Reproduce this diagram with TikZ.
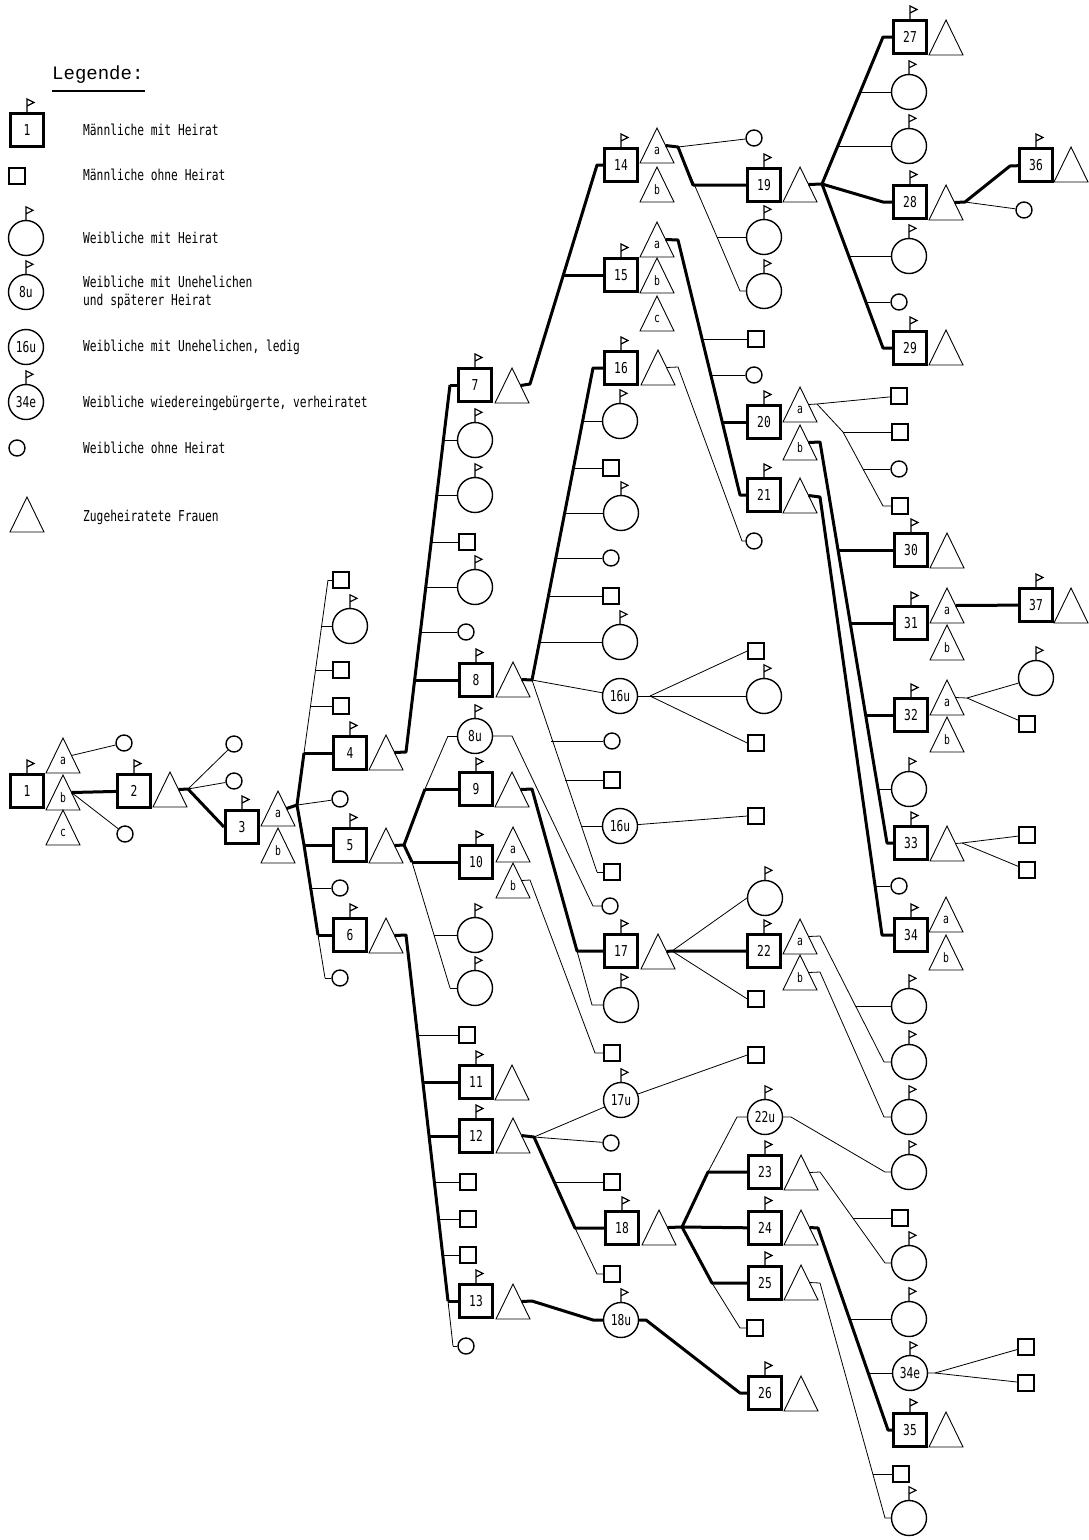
\documentclass[tikz,border=0pt]{standalone}
\usepackage{fontspec}
\newfontfamily\plotfont[FakeStretch=0.75]{DejaVu Sans Mono}
\newfontfamily\titlefont{Liberation Mono}
\newcommand\fNum{\plotfont\fontsize{15}{15}\selectfont}
\newcommand\fWife{\plotfont\fontsize{13}{13}\selectfont}
\newcommand\fLeg{\plotfont\fontsize{15}{18}\selectfont}
\newcommand\fTitle{\titlefont\fontsize{19}{19}\selectfont}
\newcommand\flag[1]{\draw[flagline] (#1.north) -- ++(0,-13) -- ++(7,3.5) -- ++(-7,3.5);}
\newcommand\wife[4]{%
  \draw[wifeline] (#2,#3) -- ++(17,35) -- ++(-34,0) -- cycle;
  \node[font=\fWife, inner sep=0pt] (#1-l) at (#2,#3+23) {#4};
  \coordinate (#1) at (#2+8.5,#3+17.5);
}
\tikzset{
  mm/.style={draw, line width=3pt, minimum size=33pt, inner sep=0pt, font=\fNum},
  um/.style={draw, line width=1.4pt, minimum size=16pt, inner sep=0pt},
  mf/.style={draw, circle, line width=1.4pt, minimum size=35pt, inner sep=0pt, font=\fNum},
  uf/.style={draw, circle, line width=1.4pt, minimum size=16pt, inner sep=0pt},
  thk/.style={line width=3pt, line join=round},
  thn/.style={line width=0.8pt},
  wifeline/.style={line width=0.9pt, line join=miter},
  flagline/.style={line width=1.2pt, line join=miter},
  legtext/.style={anchor=west, font=\fLeg, inner sep=0pt, align=left}
}
\begin{document}
\begin{tikzpicture}[x=1pt,y=-1pt]
\useasboundingbox (0,0) rectangle (1088,1540);

% ---------------- Legend ----------------
\node[anchor=west, font=\fTitle, inner sep=0pt] (legtitle) at (52,75) {Legende:};
\coordinate (ulA) at (52,91); \coordinate (ulB) at (145,91);
\draw[line width=1.2pt] (ulA) -- (ulB);
\node[mm] (l1) at (27,130) {1}; \flag{l1}
\node[um] (l2) at (17,176) {};
\node[mf] (l3) at (26,238) {}; \flag{l3}
\node[mf] (l4) at (26,292) {8u}; \flag{l4}
\node[mf] (l5) at (26,347) {16u};
\node[mf] (l6) at (26,402) {34e}; \flag{l6}
\node[uf] (l7) at (17,448) {};
\wife{l8}{27}{497}{}
\node[legtext] (t1) at (83,130) {Männliche mit Heirat};
\node[legtext] (t2) at (83,175) {Männliche ohne Heirat};
\node[legtext] (t3) at (83,238) {Weibliche mit Heirat};
\node[legtext] (t4) at (83,292) {Weibliche mit Unehelichen\\und späterer Heirat};
\node[legtext] (t5) at (83,347) {Weibliche mit Unehelichen, ledig};
\node[legtext] (t6) at (83,403) {Weibliche wiedereingebürgerte, verheiratet};
\node[legtext] (t7) at (83,448) {Weibliche ohne Heirat};
\node[legtext] (t8) at (83,517) {Zugeheiratete Frauen};

% ---------------- Generation 1-2 ----------------
\node[mm] (n1) at (27,791) {1}; \flag{n1}
\wife{w1a}{63}{738}{a}
\wife{w1b}{63}{775}{b}
\wife{w1c}{63}{810}{c}
\node[uf] (c1a) at (124,743) {};
\node[uf] (c1b) at (125,834) {};
\node[mm] (n2) at (134,791) {2}; \flag{n2}
\wife{w2}{170}{772}{}
\node[uf] (c2a) at (234,744) {};
\node[uf] (c2b) at (234,781) {};
\node[mm] (n3) at (242,827) {3}; \flag{n3}
\wife{w3a}{278}{791}{a}
\wife{w3b}{278}{828}{b}
\draw[thn] (w1a) -- (c1a);
\draw[thk] (w1b) -- (n2);
\draw[thn] (w1b) -- (c1b);
\coordinate (j2) at (188,789);
\draw[thk] (w2) -- (j2) -- (n3.west);
\draw[thn] (j2) -- (c2a);
\draw[thn] (j2) -- (c2b);

% ---------------- children of 3 ----------------
\node[um] (k3a) at (341,580) {};
\node[mf] (k3b) at (350,626) {}; \flag{k3b}
\node[um] (k3c) at (341,670) {};
\node[um] (k3d) at (341,706) {};
\node[mm] (n4) at (350,753) {4}; \flag{n4}
\node[uf] (k3e) at (340,799) {};
\node[mm] (n5) at (350,845) {5}; \flag{n5}
\node[uf] (k3f) at (340,888) {};
\node[mm] (n6) at (350,935) {6}; \flag{n6}
\node[uf] (k3g) at (340,978) {};
\wife{w4}{386}{735}{}
\wife{w5}{386}{828}{}
\wife{w6}{386}{918}{}
\coordinate (j3) at (297,805);
\coordinate (s3a) at (328,580);
\coordinate (s3b) at (322,626);
\coordinate (s3c) at (316,670);
\coordinate (s3d) at (311,706);
\coordinate (s3e) at (304,753);
\coordinate (s3f) at (304,845);
\coordinate (s3g) at (310,888);
\coordinate (s3h) at (318,935);
\coordinate (s3i) at (325,978);
\draw[thk] (w3a) -- (j3);
\draw[thk] (s3e) -- (j3) -- (s3f) -- (s3h);
\draw[thn] (s3e) -- (s3a);
\draw[thn] (s3h) -- (s3i);
\draw[thn] (s3a) -- (k3a);
\draw[thn] (s3b) -- (k3b);
\draw[thn] (s3c) -- (k3c);
\draw[thn] (s3d) -- (k3d);
\draw[thk] (s3e) -- (n4);
\draw[thn] (j3) -- (k3e);
\draw[thk] (s3f) -- (n5);
\draw[thn] (s3g) -- (k3f);
\draw[thk] (s3h) -- (n6);
\draw[thn] (s3i) -- (k3g);

% ---------------- children of 4 ----------------
\node[mm] (n7) at (475,385) {7}; \flag{n7}
\node[mf] (k4a) at (475,440) {}; \flag{k4a}
\node[mf] (k4b) at (475,495) {}; \flag{k4b}
\node[um] (k4c) at (467,542) {};
\node[mf] (k4d) at (475,587) {}; \flag{k4d}
\node[uf] (k4e) at (466,632) {};
\node[mm] (n8) at (476,680) {8}; \flag{n8}
\wife{w7}{512}{368}{}
\wife{w8}{513}{662}{}
\coordinate (j4) at (406,752);
\coordinate (s4a) at (450,385);
\coordinate (s4b) at (443,440);
\coordinate (s4c) at (437,495);
\coordinate (s4d) at (431,542);
\coordinate (s4e) at (425,587);
\coordinate (s4f) at (420,632);
\coordinate (s4g) at (413,680);
\draw[thk] (w4) -- (j4) -- (s4a);
\draw[thk] (s4a) -- (n7);
\draw[thn] (s4b) -- (k4a);
\draw[thn] (s4c) -- (k4b);
\draw[thn] (s4d) -- (k4c);
\draw[thn] (s4e) -- (k4d);
\draw[thn] (s4f) -- (k4e);
\draw[thk] (s4g) -- (n8);

% ---------------- children of 5 ----------------
\node[mf] (u8) at (475,736) {8u}; \flag{u8}
\node[mm] (n9) at (476,789) {9}; \flag{n9}
\node[mm] (n10) at (476,862) {10}; \flag{n10}
\node[mf] (k5a) at (475,935) {}; \flag{k5a}
\node[mf] (k5b) at (475,988) {}; \flag{k5b}
\wife{w9}{512}{772}{}
\wife{w10a}{513}{827}{a}
\wife{w10b}{513}{863}{b}
\coordinate (j5) at (404,845);
\coordinate (s5a) at (448,736);
\coordinate (s5b) at (425,789);
\coordinate (s5c) at (412,862);
\coordinate (s5d) at (434,935);
\coordinate (s5e) at (450,988);
\draw[thk] (w5) -- (j5);
\draw[thk] (s5b) -- (j5) -- (s5c);
\draw[thn] (s5b) -- (s5a);
\draw[thn] (s5c) -- (s5d) -- (s5e);
\draw[thn] (s5a) -- (u8);
\draw[thk] (s5b) -- (n9);
\draw[thk] (s5c) -- (n10);
\draw[thn] (s5d) -- (k5a);
\draw[thn] (s5e) -- (k5b);

% ---------------- children of 6 ----------------
\node[um] (k6a) at (467,1035) {};
\node[mm] (n11) at (476,1082) {11}; \flag{n11}
\node[mm] (n12) at (476,1136) {12}; \flag{n12}
\node[um] (k6b) at (468,1182) {};
\node[um] (k6c) at (468,1219) {};
\node[um] (k6d) at (468,1255) {};
\node[mm] (n13) at (476,1301) {13}; \flag{n13}
\node[uf] (k6e) at (466,1346) {};
\wife{w11}{512}{1065}{}
\wife{w12}{513}{1118}{}
\wife{w13}{513}{1284}{}
\coordinate (j6) at (406,935);
\coordinate (s6a) at (417,1035);
\coordinate (s6b) at (422,1082);
\coordinate (s6c) at (428,1136);
\coordinate (s6d) at (434,1182);
\coordinate (s6e) at (438,1219);
\coordinate (s6f) at (442,1255);
\coordinate (s6g) at (448,1301);
\coordinate (s6h) at (453,1346);
\draw[thk] (w6) -- (j6) -- (s6g);
\draw[thn] (s6g) -- (s6h);
\draw[thn] (s6a) -- (k6a);
\draw[thk] (s6b) -- (n11);
\draw[thk] (s6c) -- (n12);
\draw[thn] (s6d) -- (k6b);
\draw[thn] (s6e) -- (k6c);
\draw[thn] (s6f) -- (k6d);
\draw[thk] (s6g) -- (n13);
\draw[thn] (s6h) -- (k6e);

% ---------------- children of 7 ----------------
\node[mm] (n14) at (621,165) {14}; \flag{n14}
\node[mm] (n15) at (621,275) {15}; \flag{n15}
\wife{w14a}{657}{128}{a}
\wife{w14b}{657}{167}{b}
\wife{w15a}{657}{222}{a}
\wife{w15b}{657}{258}{b}
\wife{w15c}{657}{296}{c}
\coordinate (j7) at (530,384);
\coordinate (s7a) at (597,165);
\coordinate (s7b) at (563,275);
\draw[thk] (w7) -- (j7) -- (s7a) -- (n14);
\draw[thk] (s7b) -- (n15);

% ---------------- children of 8 ----------------
\node[mm] (n16) at (621,368) {16}; \flag{n16}
\node[mf] (k8a) at (620,421) {}; \flag{k8a}
\node[um] (k8b) at (611,468) {};
\node[mf] (k8c) at (621,513) {}; \flag{k8c}
\node[uf] (k8d) at (611,558) {};
\node[um] (k8e) at (611,596) {};
\node[mf] (k8f) at (620,642) {}; \flag{k8f}
\node[mf] (u16a) at (620,696) {16u};
\node[uf] (k8g) at (612,741) {};
\node[um] (k8h) at (612,780) {};
\node[mf] (u16b) at (620,826) {16u};
\node[um] (k8i) at (612,872) {};
\wife{w16}{658}{350}{}
\coordinate (j8) at (532,680);
\coordinate (s8a) at (593,368);
\coordinate (s8b) at (582,421);
\coordinate (s8c) at (573,468);
\coordinate (s8d) at (564,513);
\coordinate (s8e) at (555,558);
\coordinate (s8f) at (547,596);
\coordinate (s8g) at (538,642);
\coordinate (s8h) at (551,741);
\coordinate (s8i) at (565,780);
\coordinate (s8j) at (581,826);
\coordinate (s8k) at (597,872);
\draw[thk] (w8) -- (j8) -- (s8a) -- (n16);
\draw[thn] (s8b) -- (k8a);
\draw[thn] (s8c) -- (k8b);
\draw[thn] (s8d) -- (k8c);
\draw[thn] (s8e) -- (k8d);
\draw[thn] (s8f) -- (k8e);
\draw[thn] (s8g) -- (k8f);
\draw[thn] (j8) -- (u16a);
\draw[thn] (j8) -- (s8k);
\draw[thn] (s8h) -- (k8g);
\draw[thn] (s8i) -- (k8h);
\draw[thn] (s8j) -- (u16b);
\draw[thn] (s8k) -- (k8i);

% child of 8u
\node[uf] (k8u) at (610,906) {};
\coordinate (t8ua) at (512,736);
\coordinate (t8ub) at (593,906);
\draw[thn] (u8) -- (t8ua) -- (t8ub) -- (k8u);

% ---------------- children of 9 ----------------
\node[mm] (n17) at (621,951) {17}; \flag{n17}
\node[mf] (k9a) at (621,1005) {}; \flag{k9a}
\wife{w17}{658}{934}{}
\coordinate (j9) at (532,789);
\coordinate (s9a) at (577,951);
\coordinate (s9b) at (592,1005);
\draw[thk] (w9) -- (j9) -- (s9a) -- (n17);
\draw[thn] (s9a) -- (s9b) -- (k9a);

% child of 10b
\node[um] (k10) at (612,1053) {};
\coordinate (j10) at (530,880);
\coordinate (s10) at (595,1053);
\draw[thn] (w10b) -- (j10) -- (s10) -- (k10);

% ---------------- children of 12 ----------------
\node[mf] (u17) at (621,1100) {17u}; \flag{u17}
\node[uf] (k12a) at (611,1143) {};
\node[um] (k12b) at (612,1182) {};
\node[mm] (n18) at (622,1228) {18}; \flag{n18}
\node[um] (k12c) at (612,1274) {};
\wife{w18}{659}{1210}{}
\coordinate (j12) at (534,1137);
\coordinate (s12a) at (554,1182);
\coordinate (s12b) at (575,1228);
\coordinate (s12c) at (597,1274);
\draw[thk] (w12) -- (j12) -- (s12b) -- (n18);
\draw[thn] (s12b) -- (s12c) -- (k12c);
\draw[thn] (s12a) -- (k12b);
\draw[thn] (j12) -- (u17);
\draw[thn] (j12) -- (k12a);

% ---------------- child of 13 ----------------
\node[mf] (u18) at (621,1320) {18u}; \flag{u18}
\coordinate (j13) at (532,1301);
\coordinate (s13) at (593,1320);
\draw[thk] (w13) -- (j13) -- (s13) -- (u18);
\node[mm] (n26) at (765,1393) {26}; \flag{n26}
\wife{w26}{801}{1376}{}
\coordinate (t18ua) at (646,1320);
\coordinate (t18ub) at (740,1393);
\draw[thk] (u18) -- (t18ua) -- (t18ub) -- (n26);

% ---------------- children of 16u ----------------
\node[um] (k16a) at (756,651) {};
\node[mf] (k16b) at (764,696) {}; \flag{k16b}
\node[um] (k16c) at (756,743) {};
\coordinate (j16u) at (650,696);
\draw[thn] (u16a) -- (j16u);
\draw[thn] (j16u) -- (k16a.west);
\draw[thn] (j16u) -- (k16b);
\draw[thn] (j16u) -- (k16c.west);
\node[um] (k16d) at (756,816) {};
\draw[thn] (u16b) -- (k16d.west);

% ---------------- children of 17 ----------------
\node[mf] (k17a) at (765,898) {}; \flag{k17a}
\node[mm] (n22) at (764,951) {22}; \flag{n22}
\node[um] (k17b) at (756,999) {};
\wife{w22a}{800}{919}{a}
\wife{w22b}{800}{955}{b}
\coordinate (j17) at (672,951);
\draw[thk] (w17) -- (j17) -- (n22);
\draw[thn] (j17) -- (k17a.west);
\draw[thn] (j17) -- (k17b.west);
\node[um] (k17u) at (756,1055) {};
\draw[thn] (u17) -- (k17u.west);

% ---------------- children of 18 ----------------
\node[mf] (u22) at (765,1117) {22u}; \flag{u22}
\node[mm] (n23) at (765,1172) {23}; \flag{n23}
\node[mm] (n24) at (765,1228) {24}; \flag{n24}
\node[mm] (n25) at (765,1283) {25}; \flag{n25}
\node[um] (k18a) at (755,1328) {};
\wife{w23}{801}{1155}{}
\wife{w24}{801}{1210}{}
\wife{w25}{801}{1265}{}
\coordinate (j18) at (682,1227);
\coordinate (s18a) at (708,1172);
\coordinate (s18b) at (737,1117);
\coordinate (s18c) at (712,1283);
\coordinate (s18d) at (740,1328);
\draw[thk] (w18) -- (j18) -- (n24);
\draw[thk] (j18) -- (s18a) -- (n23);
\draw[thn] (s18a) -- (s18b) -- (u22);
\draw[thk] (j18) -- (s18c) -- (n25);
\draw[thn] (s18c) -- (s18d) -- (k18a);

% ---------------- children of 14a ----------------
\node[uf] (k14a) at (754,138) {};
\node[mm] (n19) at (764,185) {19}; \flag{n19}
\node[mf] (k14b) at (764,237) {}; \flag{k14b}
\node[mf] (k14c) at (764,291) {}; \flag{k14c}
\wife{w19}{800}{167}{}
\coordinate (j14) at (678,147);
\coordinate (s14a) at (693,185);
\coordinate (s14b) at (717,237);
\coordinate (s14c) at (740,291);
\draw[thk] (w14a) -- (j14) -- (s14a) -- (n19);
\draw[thn] (j14) -- (k14a);
\draw[thn] (j14) -- (s14b) -- (s14c) -- (k14c);
\draw[thn] (s14b) -- (k14b);

% ---------------- children of 15a ----------------
\node[um] (k15a) at (756,339) {};
\node[uf] (k15b) at (754,375) {};
\node[mm] (n20) at (764,422) {20}; \flag{n20}
\node[mm] (n21) at (764,495) {21}; \flag{n21}
\wife{w20a}{800}{387}{a}
\wife{w20b}{800}{425}{b}
\wife{w21}{800}{478}{}
\coordinate (j15) at (678,240);
\coordinate (s15a) at (703,339);
\coordinate (s15b) at (712,375);
\coordinate (s15c) at (723,422);
\coordinate (s15d) at (740,495);
\draw[thk] (w15a) -- (j15) -- (s15d) -- (n21);
\draw[thn] (s15a) -- (k15a);
\draw[thn] (s15b) -- (k15b);
\draw[thk] (s15c) -- (n20);

% child of 16
\node[uf] (k16e) at (754,541) {};
\coordinate (j16) at (678,367);
\coordinate (s16) at (742,541);
\draw[thn] (w16) -- (j16) -- (s16) -- (k16e);

% ---------------- children of 19 ----------------
\node[mm] (n27) at (910,37) {27}; \flag{n27}
\node[mf] (k19a) at (909,92) {}; \flag{k19a}
\node[mf] (k19b) at (909,146) {}; \flag{k19b}
\node[mm] (n28) at (910,202) {28}; \flag{n28}
\node[mf] (k19c) at (909,256) {}; \flag{k19c}
\node[uf] (k19d) at (899,302) {};
\node[mm] (n29) at (910,348) {29}; \flag{n29}
\wife{w27}{946}{20}{}
\wife{w28}{946}{185}{}
\wife{w29}{946}{330}{}
\coordinate (j19) at (822,184);
\coordinate (s19a) at (883,37);
\coordinate (s19b) at (860,92);
\coordinate (s19c) at (838,146);
\coordinate (s19d) at (883,202);
\coordinate (s19e) at (849,256);
\coordinate (s19f) at (866,302);
\coordinate (s19g) at (883,348);
\draw[thk] (w19) -- (j19);
\draw[thk] (j19) -- (s19a) -- (n27);
\draw[thk] (j19) -- (s19d) -- (n28);
\draw[thk] (j19) -- (s19g) -- (n29);
\draw[thn] (s19b) -- (k19a);
\draw[thn] (s19c) -- (k19b);
\draw[thn] (s19e) -- (k19c);
\draw[thn] (s19f) -- (k19d);

% children of 28
\node[mm] (n36) at (1036,165) {36}; \flag{n36}
\node[uf] (k28) at (1024,210) {};
\wife{w36}{1071}{147}{}
\coordinate (j28) at (965,202);
\coordinate (s28) at (1010,166);
\draw[thk] (w28) -- (j28) -- (s28) -- (n36);
\draw[thn] (j28) -- (k28);

% ---------------- children of 20a ----------------
\node[um] (k20a) at (899,396) {};
\node[um] (k20b) at (900,432) {};
\node[uf] (k20c) at (899,469) {};
\node[um] (k20d) at (900,506) {};
\coordinate (j20a) at (817,404);
\coordinate (s20a) at (843,432);
\coordinate (s20b) at (863,469);
\coordinate (s20c) at (883,506);
\draw[thn] (w20a) -- (j20a) -- (k20a);
\draw[thn] (j20a) -- (s20a) -- (s20b) -- (s20c) -- (k20d);
\draw[thn] (s20a) -- (k20b);
\draw[thn] (s20b) -- (k20c);

% ---------------- children of 20b ----------------
\node[mm] (n30) at (911,550) {30}; \flag{n30}
\node[mm] (n31) at (911,623) {31}; \flag{n31}
\node[mm] (n32) at (911,715) {32}; \flag{n32}
\node[mf] (k20e) at (909,789) {}; \flag{k20e}
\node[mm] (n33) at (911,843) {33}; \flag{n33}
\wife{w30}{947}{533}{}
\wife{w31a}{947}{588}{a}
\wife{w31b}{947}{625}{b}
\wife{w32a}{947}{680}{a}
\wife{w32b}{947}{717}{b}
\wife{w33}{947}{826}{}
\coordinate (j20b) at (820,442);
\coordinate (s20d) at (838,550);
\coordinate (s20e) at (850,623);
\coordinate (s20f) at (866,715);
\coordinate (s20g) at (878,789);
\coordinate (s20h) at (887,843);
\draw[thk] (w20b) -- (j20b) -- (s20h) -- (n33);
\draw[thk] (s20d) -- (n30);
\draw[thk] (s20e) -- (n31);
\draw[thk] (s20f) -- (n32);
\draw[thn] (s20g) -- (k20e);

% ---------------- children of 21 ----------------
\node[uf] (k21a) at (899,886) {};
\node[mm] (n34) at (911,935) {34}; \flag{n34}
\wife{w34a}{946}{897}{a}
\wife{w34b}{946}{935}{b}
\coordinate (j21) at (820,497);
\coordinate (s21a) at (875,886);
\coordinate (s21b) at (882,935);
\draw[thk] (w21) -- (j21) -- (s21b) -- (n34);
\draw[thn] (s21a) -- (k21a);

% children of 31a, 32a, 33
\node[mm] (n37) at (1036,605) {37}; \flag{n37}
\wife{w37}{1071}{588}{}
\draw[thk] (w31a) -- (n37);
\node[mf] (k32a) at (1036,678) {}; \flag{k32a}
\node[um] (k32b) at (1027,724) {};
\coordinate (j32) at (967,698);
\draw[thn] (w32a) -- (j32) -- (k32a);
\draw[thn] (j32) -- (k32b);
\node[um] (k33a) at (1027,835) {};
\node[um] (k33b) at (1027,870) {};
\coordinate (j33) at (962,843);
\draw[thn] (w33) -- (j33) -- (k33a);
\draw[thn] (j33) -- (k33b);

% ---------------- children of 22a / 22b ----------------
\node[mf] (k22a) at (909,1006) {}; \flag{k22a}
\node[mf] (k22b) at (909,1062) {}; \flag{k22b}
\node[mf] (k22c) at (909,1117) {}; \flag{k22c}
\coordinate (j22a) at (820,936);
\coordinate (s22a) at (856,1006);
\coordinate (s22b) at (884,1062);
\draw[thn] (w22a) -- (j22a) -- (s22b) -- (k22b);
\draw[thn] (s22a) -- (k22a);
\coordinate (j22b) at (820,972);
\coordinate (s22c) at (884,1117);
\draw[thn] (w22b) -- (j22b) -- (s22c) -- (k22c);

% child of 22u
\node[mf] (k22d) at (909,1172) {}; \flag{k22d}
\coordinate (t22ua) at (791,1117);
\coordinate (t22ub) at (885,1172);
\draw[thn] (u22) -- (t22ua) -- (t22ub) -- (k22d);

% children of 23
\node[um] (k23a) at (900,1218) {};
\node[mf] (k23b) at (909,1263) {}; \flag{k23b}
\coordinate (j23) at (820,1172);
\coordinate (s23a) at (853,1218);
\coordinate (s23b) at (885,1263);
\draw[thn] (w23) -- (j23) -- (s23b) -- (k23b);
\draw[thn] (s23a) -- (k23a);

% children of 24
\node[mf] (k24a) at (909,1319) {}; \flag{k24a}
\node[mf] (u34e) at (910,1373) {34e}; \flag{u34e}
\node[mm] (n35) at (910,1430) {35}; \flag{n35}
\wife{w35}{946}{1412}{}
\coordinate (j24) at (818,1228);
\coordinate (s24a) at (850,1319);
\coordinate (s24b) at (868,1373);
\coordinate (s24c) at (888,1430);
\draw[thk] (w24) -- (j24) -- (s24c) -- (n35);
\draw[thn] (s24a) -- (k24a);
\draw[thn] (s24b) -- (u34e);

% children of 34e
\node[um] (k34a) at (1026,1347) {};
\node[um] (k34b) at (1026,1383) {};
\coordinate (j34e) at (935,1373);
\draw[thn] (u34e) -- (j34e) -- (k34a);
\draw[thn] (j34e) -- (k34b);

% children of 25
\node[um] (k25a) at (901,1474) {};
\node[mf] (k25b) at (909,1518) {}; \flag{k25b}
\coordinate (j25) at (820,1283);
\coordinate (s25a) at (873,1474);
\coordinate (s25b) at (885,1518);
\draw[thn] (w25) -- (j25) -- (s25b) -- (k25b);
\draw[thn] (s25a) -- (k25a);

\end{tikzpicture}
\end{document}
